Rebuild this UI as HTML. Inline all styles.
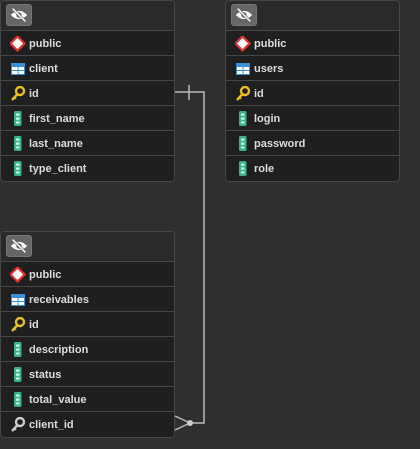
<!DOCTYPE html>
<html><head><style>
body{margin:0;width:420px;height:449px;background:#2f2f2f;overflow:hidden;font-family:"Liberation Sans",sans-serif;position:relative}
.t{position:absolute;width:175px;background:#1f1f1f;border:1px solid #474747;border-radius:4px;box-sizing:border-box}
.h{height:30px;position:relative;border-bottom:1px solid #474747;box-sizing:border-box;background:#2a2a2a;border-radius:4px 4px 0 0}
.eye{position:absolute;left:5px;top:3px;width:26px;height:22px;background:#666;border-radius:3px;border:1px solid #777;box-sizing:border-box}
.r{height:25px;border-bottom:1px solid #474747;box-sizing:border-box;color:#ddd;font-size:11px;font-weight:bold;line-height:26px;padding-left:28px;position:relative}
.r:last-child{border-bottom:none}
.i{position:absolute;left:9px;top:5px}
</style></head><body>
<svg width="0" height="0" style="position:absolute"><defs>
<g id="eye"><path d="M4 11 Q13 2 22 11 Q13 20 4 11Z" fill="#fff"/><circle cx="13" cy="11" r="3" fill="#666"/><line x1="6" y1="4" x2="20" y2="18" stroke="#666" stroke-width="3"/><line x1="6" y1="4" x2="20" y2="18" stroke="#fff" stroke-width="1.5"/></g>
<g id="pub"><rect x="2.5" y="2.5" width="10" height="10" transform="rotate(45 7.5 7.5)" fill="#fff" stroke="#d33" stroke-width="2.2"/></g>
<g id="tab"><rect x="1" y="2" width="14" height="12" fill="#3a8fd8"/><rect x="2" y="6" width="5.5" height="3" fill="#fff"/><rect x="8.5" y="6" width="5.5" height="3" fill="#fff"/><rect x="2" y="10" width="5.5" height="3" fill="#fff"/><rect x="8.5" y="10" width="5.5" height="3" fill="#fff"/></g>
<g id="key"><circle cx="10" cy="5" r="4" fill="none" stroke="#e8c020" stroke-width="2.4"/><line x1="8" y1="7.5" x2="2" y2="14" stroke="#e8c020" stroke-width="2.4"/><line x1="4" y1="11" x2="6" y2="13" stroke="#e8c020" stroke-width="1.5"/></g>
<g id="fk"><circle cx="10" cy="5" r="4" fill="none" stroke="#ccc" stroke-width="2.4"/><line x1="8" y1="7.5" x2="2" y2="14" stroke="#ccc" stroke-width="2.4"/><line x1="4" y1="11" x2="6" y2="13" stroke="#ccc" stroke-width="1.5"/></g>
<g id="col"><rect x="4" y="0" width="7.5" height="15" rx="1.5" fill="#3bb08f"/><rect x="6" y="2.5" width="3.5" height="2.2" fill="#cfe"/><rect x="6" y="6.5" width="3.5" height="2.2" fill="#cfe"/><rect x="6" y="10.5" width="3.5" height="2" fill="#cfe"/></g>
</defs></svg>

<div class="t" style="left:0;top:0">
<div class="h"><svg class="eye" viewBox="0 0 26 22"><use href="#eye"/></svg></div>
<div class="r"><svg class="i" width="16" height="16"><use href="#pub"/></svg>public</div>
<div class="r"><svg class="i" width="16" height="16"><use href="#tab"/></svg>client</div>
<div class="r"><svg class="i" width="16" height="16"><use href="#key"/></svg>id</div>
<div class="r"><svg class="i" width="16" height="16"><use href="#col"/></svg>first_name</div>
<div class="r"><svg class="i" width="16" height="16"><use href="#col"/></svg>last_name</div>
<div class="r"><svg class="i" width="16" height="16"><use href="#col"/></svg>type_client</div>
</div>

<div class="t" style="left:225px;top:0">
<div class="h"><svg class="eye" viewBox="0 0 26 22"><use href="#eye"/></svg></div>
<div class="r"><svg class="i" width="16" height="16"><use href="#pub"/></svg>public</div>
<div class="r"><svg class="i" width="16" height="16"><use href="#tab"/></svg>users</div>
<div class="r"><svg class="i" width="16" height="16"><use href="#key"/></svg>id</div>
<div class="r"><svg class="i" width="16" height="16"><use href="#col"/></svg>login</div>
<div class="r"><svg class="i" width="16" height="16"><use href="#col"/></svg>password</div>
<div class="r"><svg class="i" width="16" height="16"><use href="#col"/></svg>role</div>
</div>

<div class="t" style="left:0;top:231px">
<div class="h"><svg class="eye" viewBox="0 0 26 22"><use href="#eye"/></svg></div>
<div class="r"><svg class="i" width="16" height="16"><use href="#pub"/></svg>public</div>
<div class="r"><svg class="i" width="16" height="16"><use href="#tab"/></svg>receivables</div>
<div class="r"><svg class="i" width="16" height="16"><use href="#key"/></svg>id</div>
<div class="r"><svg class="i" width="16" height="16"><use href="#col"/></svg>description</div>
<div class="r"><svg class="i" width="16" height="16"><use href="#col"/></svg>status</div>
<div class="r"><svg class="i" width="16" height="16"><use href="#col"/></svg>total_value</div>
<div class="r"><svg class="i" width="16" height="16"><use href="#fk"/></svg>client_id</div>
</div>

<svg style="position:absolute;left:0;top:0" width="420" height="449">
<g stroke="#bbb" stroke-width="1.5" fill="none">
<path d="M175 92 H204 V423 H190"/>
<line x1="189" y1="85" x2="189" y2="100"/>
<line x1="190" y1="423" x2="175" y2="416"/>
<line x1="190" y1="423" x2="175" y2="430"/>
</g>
<circle cx="190" cy="423" r="3" fill="#ccc"/>
</svg>
</body></html>
